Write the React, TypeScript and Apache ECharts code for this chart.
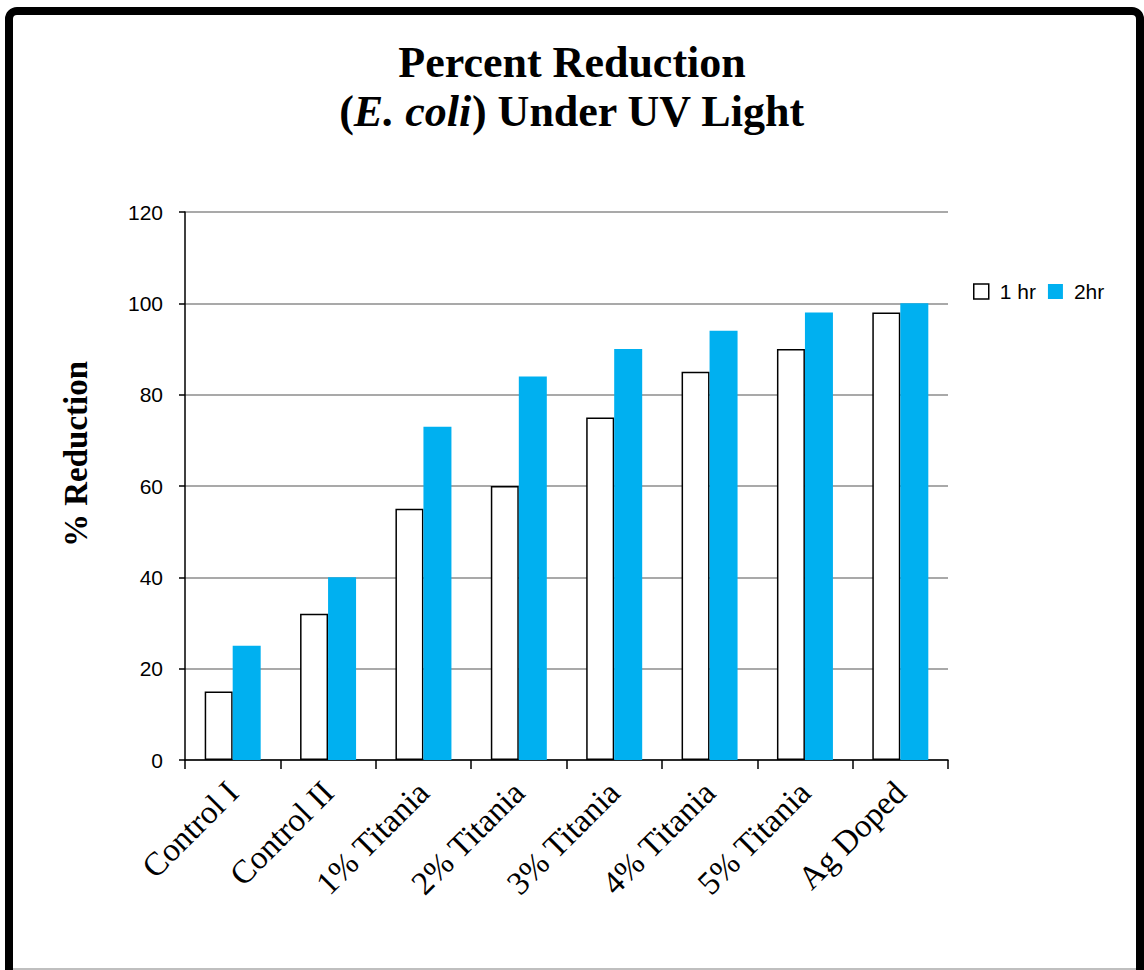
import React, { useEffect, useRef } from "react";
import * as echarts from "echarts";

const categories = ["Control I", "Control II", "1% Titania", "2% Titania", "3% Titania", "4% Titania", "5% Titania", "Ag Doped"];
const oneHr = [15, 32, 55, 60, 75, 85, 90, 98];
const twoHr = [25, 40, 73, 84, 90, 94, 98, 100];
const seriesNames = ["1 hr", "2hr"];
const yTicks = { min: 0, max: 120, interval: 20 };
const yAxisTitle = "% Reduction";

export default function App() {
  const ref = useRef<HTMLDivElement>(null);
  useEffect(() => {
    const chart = echarts.init(ref.current!, null, { renderer: "svg" });
    const serif = "'Liberation Serif', 'DejaVu Serif', serif";
    const sans = "'Liberation Sans', Arial, sans-serif";
    chart.setOption({
      animation: false,
      backgroundColor: "#ffffff",
      title: {
        text: "Percent Reduction\n({i|E. coli}) Under UV Light",
        left: "center",
        top: 33,
        textStyle: {
          fontFamily: serif,
          fontWeight: "bold",
          fontSize: 44,
          lineHeight: 49,
          color: "#000",
          rich: {
            i: { fontFamily: serif, fontWeight: "bold", fontStyle: "italic", fontSize: 44, lineHeight: 49, color: "#000" },
          },
        },
      },
      legend: {
        left: 968,
        top: 276,
        itemWidth: 15,
        itemHeight: 15,
        itemGap: 12,
        icon: "rect",
        textStyle: { fontFamily: sans, fontSize: 21, color: "#000", padding: [0, 0, 0, 6] },
        data: [
          { name: seriesNames[0], itemStyle: { color: "#fff", borderColor: "#000", borderWidth: 1.5 } },
          { name: seriesNames[1] },
        ],
      },
      grid: { left: 185, right: 196, top: 212, bottom: 210, containLabel: false },
      xAxis: {
        type: "category",
        data: categories,
        axisLine: { lineStyle: { color: "#000", width: 1.5 } },
        axisTick: { show: true, length: 9, lineStyle: { color: "#000", width: 1.5 } },
        axisLabel: {
          rotate: 45,
          interval: 0,
          margin: 27,
          fontFamily: serif,
          fontSize: 33,
          color: "#000",
        },
      },
      yAxis: {
        type: "value",
        min: yTicks.min,
        max: yTicks.max,
        interval: yTicks.interval,
        axisLine: { show: true, lineStyle: { color: "#000", width: 1.5 } },
        axisTick: { show: true, length: 6, lineStyle: { color: "#000", width: 1.5 } },
        axisLabel: { fontFamily: sans, fontSize: 21, color: "#000", margin: 22 },
        splitLine: { lineStyle: { color: "#8c8c8c", width: 1.5 } },
      },
      series: [
        {
          name: seriesNames[0],
          type: "bar",
          data: oneHr,
          barWidth: 28,
          barGap: "0%",
          itemStyle: { color: "#ffffff", borderColor: "#000", borderWidth: 1.5 },
        },
        {
          name: seriesNames[1],
          type: "bar",
          data: twoHr,
          barWidth: 28,
          barGap: "0%",
          itemStyle: { color: "#00B0F0" },
        },
      ],
      graphic: [
        {
          type: "text",
          x: 76,
          y: 454,
          rotation: Math.PI / 2,
          style: {
            text: yAxisTitle,
            fontFamily: serif,
            fontWeight: "bold",
            fontSize: 33,
            fill: "#000",
            align: "center",
            verticalAlign: "middle",
          },
          silent: true,
        },
        {
          type: "rect",
          shape: { x: 9, y: 11, width: 1131, height: 1000, r: 8 },
          style: { fill: "none", stroke: "#000", lineWidth: 8 },
          silent: true,
        },
        {
          type: "line",
          shape: { x1: 13, y1: 969, x2: 1136, y2: 969 },
          style: { stroke: "#aaaaaa", lineWidth: 1.5 },
          silent: true,
        },
      ],
    });
    return () => chart.dispose();
  }, []);
  return <div ref={ref} style={{ position: "fixed", left: 0, top: 0, width: 1144, height: 970 }} />;
}
